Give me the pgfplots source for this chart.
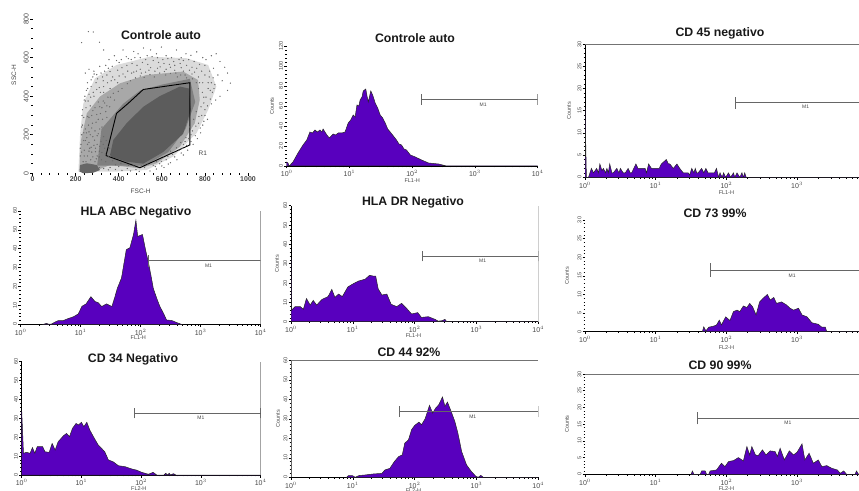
\documentclass[border=0pt]{standalone}
\usepackage{fontspec}
\setmainfont{Liberation Sans}
\usepackage{pgfplots}
\pgfplotsset{compat=1.18}
\definecolor{hist}{RGB}{88,0,190}
\definecolor{tl}{RGB}{70,70,70}
\newcommand{\fs}[1]{\fontsize{#1}{#1}\selectfont}
\pgfplotsset{
 base/.style={scale only axis, axis x line=bottom, axis y line=left, axis line style={-},
   tick align=outside, major tick length=2.5pt, minor tick length=1.3pt,
   tick style={black,line width=.5pt}, minor tick style={black,line width=.5pt},
   /pgf/number format/assume math mode=true, /pgf/number format/1000 sep={},
   clip=true},
 hst/.style={base, anchor=south west, xmin=0, ymin=0,
   xtick={0,1,2,3,4}, xticklabels={10$^{0}$,10$^{1}$,10$^{2}$,10$^{3}$,10$^{4}$},
   minor xtick={.301,.477,.602,.699,.778,.845,.903,.954,1.301,1.477,1.602,1.699,1.778,1.845,1.903,1.954,2.301,2.477,2.602,2.699,2.778,2.845,2.903,2.954,3.301,3.477,3.602,3.699,3.778,3.845,3.903,3.954},
   xticklabel style={font=\fs{7},text=tl,inner sep=1pt,yshift=-.8pt},
   yticklabel style={font=\fs{5.5},text=tl,rotate=90,anchor=south,inner sep=1pt},
   ylabel style={font=\fs{5.5},text=tl},
   xlabel style={font=\fs{5.5},text=tl},
   minor y tick num=4},
 lab/.style n args={3}{x label style={at={(axis description cs:#1,0)},anchor=center,yshift=-#2pt},
   xlabel={#3}},
 laby/.style={y label style={at={(axis description cs:0,.5)},anchor=center,yshift=#1pt},ylabel={Counts}},
 noy/.style={y axis line style={draw=none}},
 thicky/.style={y axis line style={draw=black,line width=1pt}},
 xl/.style={x axis line style={draw=black,line width=.9pt}},
 hfill/.style={fill=hist,draw=black!85,line width=.5pt},
 gatel/.style={draw=black!60,line width=.7pt,forget plot},
 framel/.style={draw=black!55,line width=.8pt,forget plot},
}
\newcommand{\ttl}[3]{\node[font=\bfseries\fs{12.3},text=black!90,inner sep=0pt] at (#1pt,490pt-#2pt) {#3};}
\begin{document}
\begin{tikzpicture}
\useasboundingbox (0pt,0pt) rectangle (859pt,490pt);

% ---------- scatter FSC/SSC
\begin{axis}[base, noy, x axis line style={draw=none}, anchor=south west, at={(32.5pt,316.7pt)},
  width=220.7pt, height=161.9pt, xmin=0, xmax=1024, ymin=0, ymax=840,
  xtick={0,200,400,600,800,1000}, ytick={0,200,400,600,800}, minor x tick num=4, minor y tick num=3,
  tick style={black,line width=.8pt}, minor tick style={black,line width=.8pt},
  xticklabel style={font=\bfseries\fs{7},text=tl,inner sep=1pt},
  yticklabel style={font=\fs{7},text=tl,rotate=90,anchor=south,inner sep=1pt},
  xlabel={FSC-H}, ylabel={SSC-H},
  x label style={font=\fs{6.5},text=tl,at={(axis description cs:.49,0)},anchor=center,yshift=-18.4pt},
  y label style={font=\fs{6.5},text=tl,at={(axis description cs:0,.607)},anchor=center,yshift=18.5pt}]
\addplot[fill=black!14,draw=none] coordinates {(213,9)(221,208)(236,363)(290,493)(390,562)(545,605)(714,597)(815,562)(853,450)(815,329)(761,208)(653,87)(529,17)(390,9)} --cycle;
\addplot[fill=black!34,draw=none] coordinates {(218,17)(225,173)(252,311)(313,398)(406,467)(529,510)(699,528)(768,484)(776,381)(753,260)(684,138)(576,52)(498,26)(360,43)(282,9)} --cycle;
\addplot[fill=black!50,draw=none] coordinates {(300,40)(320,230)(420,360)(500,430)(600,460)(730,490)(755,370)(710,230)(630,110)(520,40)(420,40)} --cycle;
\addplot[fill=black!64,draw=none] coordinates {(360,95)(375,173)(437,260)(514,345)(590,400)(684,450)(725,440)(735,329)(699,205)(606,110)(514,50)(437,60)(367,85)} --cycle;
\addplot[fill=black!60,draw=none] coordinates {(218,9)(221,43)(252,52)(298,43)(313,17)(282,3)(236,0)} --cycle;
\addplot[only marks, mark=*, mark size=.4pt, black!58, mark options={draw=none}] coordinates {
(228,678)(259,735)(282,733)(311,680)(330,640)(245,520)(262,540)(285,530)(298,512)(312,555)(325,500)(340,560)(360,528)(355,590)(380,610)(402,575)(420,640)(445,595)(470,632)(490,620)(515,650)(532,610)(548,640)(575,620)(598,655)(620,610)(645,600)(668,640)(690,600)(712,620)(735,612)(762,630)(790,600)(805,590)(830,610)(852,620)(870,580)(892,550)(905,520)(918,468)(905,430)(880,480)(860,510)(840,545)(820,500)(870,400)(850,380)(835,420)(815,440)(830,360)(800,330)(812,280)(790,250)(780,210)(765,180)(745,150)(720,120)(700,95)(670,70)(640,55)(610,30)(575,22)(545,12)(250,430)(240,380)(230,300)(232,250)(228,200)(248,340)(262,410)(272,450)(295,470)(310,445)(328,480)(345,510)(372,500)(395,535)(415,548)(438,560)(462,570)(485,560)(510,575)(535,565)(560,585)(585,575)(610,570)(635,565)(660,560)(685,570)(715,560)(740,550)(762,545)(785,530)(800,510)(790,470)(815,470)(825,430)(805,395)(795,365)(785,300)(770,260)(742,220)(725,180)(700,150)(680,120)(650,98)(620,70)(590,50)(260,250)(275,300)(290,340)(305,370)(290,220)(305,280)(322,340)(262,160)(280,190)(300,150)(322,240)(330,190)(345,290)(350,140)(240,120)(255,90)(275,110)(300,90)(320,70)(340,60)(360,30)(400,35)(440,25)(480,20)(520,30)(250,210)(268,350)(285,400)(330,420)(360,440)(395,470)(430,500)(470,525)(500,540)(540,535)(580,545)(620,540)(660,535)(700,530)(740,515)(770,500)(255,470)(280,500)(238,290)(225,150)(222,90)(235,60)(270,70)(290,60)(310,115)(335,130)(228,240)(246,170)(265,130)(285,145)(305,205)(318,165)(295,265)(275,235)(256,295)(315,310)(335,365)(350,395)(375,415)
(243,400)(258,375)(270,395)(282,420)(298,435)(315,420)(330,450)(348,470)(365,480)(382,485)(402,505)(420,515)(442,530)(460,520)(482,530)(505,520)(525,525)(548,548)(568,530)(592,552)(612,528)(640,550)(665,520)(690,548)(708,510)(728,535)(752,525)(775,470)(770,440)(788,420)(795,395)(782,345)(760,320)(772,295)(748,280)(758,245)(730,240)(735,200)(712,185)(708,165)(688,160)(695,130)(668,132)(660,110)(640,115)(628,88)(606,85)(598,62)(575,60)(560,42)(535,48)(505,38)(470,38)(445,42)(410,52)(385,45)(372,65)(352,85)(338,100)(322,108)(310,85)(292,112)(272,135)(255,150)(238,170)(245,230)(262,215)(278,260)(262,290)(280,325)(298,305)(312,345)(328,375)(345,350)(362,395)(380,380)(398,425)(415,440)(440,465)(455,480)(478,495)(500,505)(518,498)(545,512)(565,500)(590,520)(618,510)(640,518)(672,500)(688,510)(715,495)(742,490)(760,470)(238,210)(252,185)(268,200)(288,172)(300,195)(312,230)(325,280)(340,320)(358,345)(292,130)(312,140)(328,150)(342,170)(358,130)(340,100)(270,45)(310,30)(330,25)(352,18)(385,20)(415,15)(455,12)(495,10)(222,130)(228,110)(240,90)(248,60)(262,115)(280,85)(296,75)(232,330)(246,375)(256,440)(272,485)(286,515)(302,490)(318,520)(335,530)(352,545)(370,555)(390,585)(412,590)(435,605)(458,590)(475,600)(500,600)(525,590)(555,605)(580,600)(605,590)(628,595)(655,580)(680,590)(700,585)(725,590)(750,580)(775,565)(800,560)(822,530)(838,495)(846,460)(830,470)(842,440)(825,385)(812,350)(800,300)(795,270)(778,235)(755,195)(735,165)(715,145)(690,105)(660,85)(630,48)(600,38)(570,35)
};
\addplot[black,line width=.9pt,forget plot] coordinates {(341,92)(390,311)(444,363)(514,435)(730,470)(730,147)(498,29)(341,92)};
\node[font=\fs{6.5},text=tl] at (axis cs:790,105) {R1};
\end{axis}

% ---------- Controle auto FL1
\begin{axis}[hst, noy, xl, at={(286.7pt,324pt)}, width=251pt, height=120pt, xmax=4, ymax=120,
  ytick={0,20,40,60,80,100,120}, lab={.5}{15}{FL1-H}, laby=14.7]
\addplot[hfill] coordinates {(0,4)(.02,3)(.04,0)(.1,4)(.18,13)(.26,21)(.32,26)(.37,34)(.41,33)(.45,36)(.49,34)(.53,36)(.56,34)(.58,37)(.64,31)(.68,28)(.74,32)(.78,31)(.82,33)(.88,33)(.93,34)(.98,43)(1.02,46)(1.06,51)(1.09,49)(1.12,61)(1.15,60)(1.17,66)(1.2,69)(1.22,75)(1.26,77)(1.28,70)(1.30,64)(1.34,75)(1.37,71)(1.41,63)(1.45,58)(1.49,51)(1.53,48)(1.57,43)(1.61,37)(1.65,34)(1.7,30)(1.75,26)(1.79,22)(1.83,21)(1.87,17)(1.91,16)(1.97,11)(2.05,9)(2.15,6)(2.26,3)(2.42,2)(2.55,0)(4,0)} \closedcycle;
\addplot[gatel] coordinates {(2.14,61)(2.14,72)};
\addplot[gatel] coordinates {(2.14,66.7)(4,66.7)};
\addplot[gatel] coordinates {(4,61)(4,72)};
\node[font=\fs{5},text=tl] at (axis cs:3.13,61.5) {M1};
\end{axis}

% ---------- CD 45
\begin{axis}[hst, thicky, xl, at={(585pt,312.7pt)}, width=274pt, height=133.3pt, xmax=3.876, ymax=30,
  ytick={0,5,10,15,20,25,30}, lab={.516}{15.7}{FL1-H}, laby=16]
\addplot[hfill] coordinates {(0,15.5)(.02,0)(.05,0)(.09,2)(.12,1)(.165,2)(.19,1)(.21,3)(.24,1.5)(.26,2)(.29,1)(.31,2)(.33,1)(.35,3)(.38,1)(.40,1)(.45,2)(.48,1)(.50,2)(.54,1)(.57,1)(.61,2)(.64,1)(.66,1)(.72,3)(.75,2)(.78,2)(.82,2)(.85,2)(.87,1)(.90,3)(.94,2)(.98,2)(1.01,2)(1.05,2)(1.08,3)(1.15,4)(1.18,3)(1.20,3)(1.25,2)(1.30,3)(1.34,2)(1.39,1)(1.46,1)(1.48,0.5)(1.51,2)(1.54,1)(1.56,2)(1.58,1)(1.6,1)(1.65,2)(1.68,1)(1.71,2)(1.74,1)(1.77,1)(1.83,1)(1.86,2)(1.89,0)(1.91,1)(1.94,0)(1.96,1)(1.99,0)(2.03,1)(2.06,0)(2.10,1)(2.12,0)(2.15,1)(2.19,0)(2.22,1)(2.24,0)(2.26,1)(2.28,0)(3.876,0)} \closedcycle;
\addplot[gatel] coordinates {(2.127,15.45)(2.127,18.15)};
\addplot[gatel] coordinates {(2.127,16.8)(3.876,16.8)};
\addplot[framel] coordinates {(0,30)(3.876,30)};
\node[font=\fs{5},text=tl] at (axis cs:3.12,15.8) {M1};
\end{axis}

% ---------- HLA ABC
\begin{axis}[hst, noy, xl, at={(20.7pt,165.7pt)}, width=240pt, height=113.4pt, xmax=4, ymax=60,
  ytick={0,10,20,30,40,50,60}, lab={.49}{13.4}{FL1-H}]
\addplot[hfill] coordinates {(.38,0)(.43,.5)(.47,0)(.52,.2)(.56,1)(.63,2)(.71,2)(.79,3)(.88,4)(.96,5.5)(1.02,9.5)(1.09,10.8)(1.17,14.6)(1.24,12)(1.29,11.5)(1.35,9.4)(1.43,10.8)(1.52,9.4)(1.57,14.5)(1.61,19)(1.68,24.5)(1.76,39.5)(1.82,40.5)(1.88,47.5)(1.92,55)(1.95,46.5)(1.99,47)(2.03,47.5)(2.08,39.5)(2.13,32.5)(2.17,26)(2.21,19)(2.27,13.5)(2.32,9.4)(2.38,5.8)(2.43,2.3)(2.52,2)(2.6,.9)(2.68,0)} \closedcycle;
\addplot[gatel] coordinates {(2.13,30.5)(2.13,36.9)};
\addplot[gatel] coordinates {(2.13,33.7)(4,33.7)};
\addplot[framel] coordinates {(4,0)(4,60)};
\node[font=\fs{5},text=tl] at (axis cs:3.13,31) {M1};
\end{axis}

% ---------- HLA DR
\begin{axis}[hst, thicky, xl, at={(291pt,168.3pt)}, width=247.3pt, height=116pt, xmax=4, ymax=60,
  ytick={0,10,20,30,40,50,60}, lab={.495}{14.3}{FL1-H}, laby=14]
\addplot[hfill] coordinates {(0,32.7)(.01,6)(.065,7.8)(.15,7.8)(.2,6.4)(.25,12)(.31,8.6)(.36,11)(.415,8.6)(.5,11.5)(.6,13)(.66,16.7)(.71,12.6)(.77,14.3)(.83,13)(.92,18)(1,19.5)(1.09,21)(1.2,22)(1.27,24)(1.33,23.6)(1.37,23.6)(1.41,17)(1.47,13.8)(1.55,14.3)(1.62,9)(1.71,7.8)(1.79,9.5)(1.87,6.9)(1.95,4)(2.05,4.7)(2.11,2.2)(2.22,2.6)(2.33,1.2)(2.38,.3)(2.44,.5)(2.49,1.2)(2.52,0)(4,0)} \closedcycle;
\addplot[gatel] coordinates {(2.13,31.2)(2.13,36.8)};
\addplot[gatel] coordinates {(2.13,34)(4,34)};
\addplot[gatel] coordinates {(4,31.2)(4,36.8)};
\addplot[framel] coordinates {(4,0)(4,60)};
\node[font=\fs{5},text=tl] at (axis cs:3.1,31.4) {M1};
\end{axis}

% ---------- CD 73
\begin{axis}[hst, noy, xl, at={(585pt,158.3pt)}, width=274pt, height=111.7pt, xmax=3.876, ymax=30,
  ytick={0,5,10,15,20,25,30}, lab={.516}{16.3}{FL2-H}, laby=18]
\addplot[hfill] coordinates {(1.66,0)(1.68,1.3)(1.71,.2)(1.75,1.2)(1.82,1.5)(1.86,1.8)(1.9,3.1)(1.93,1.8)(1.99,4)(2.05,3)(2.1,5.4)(2.15,5.8)(2.19,5.4)(2.24,6.9)(2.29,6.5)(2.33,7.6)(2.37,6.7)(2.42,4.5)(2.47,8)(2.52,9)(2.58,10)(2.62,8.5)(2.67,9.2)(2.71,7.6)(2.78,8)(2.85,7.2)(2.9,6.3)(2.95,5.8)(3.02,6.3)(3.07,4.5)(3.14,4)(3.21,2.4)(3.3,2)(3.35,1.2)(3.4,1.2)(3.42,0)(3.876,0)} \closedcycle;
\addplot[gatel] coordinates {(1.77,14.8)(1.77,18.4)};
\addplot[gatel] coordinates {(1.77,16.6)(3.876,16.6)};
\node[font=\fs{5},text=tl] at (axis cs:2.93,15.1) {M1};
\end{axis}

% ---------- CD 34
\begin{axis}[hst, thicky, xl, at={(21.7pt,15pt)}, width=239pt, height=113.3pt, xmax=4, ymax=60,
  ytick={0,10,20,30,40,50,60}, lab={.49}{14}{FL2-H}]
\addplot[hfill] coordinates {(0,34)(.03,11.5)(.08,12)(.14,11.5)(.18,14.5)(.22,11.5)(.26,15)(.35,15)(.39,12.3)(.46,12)(.51,16.7)(.56,13.2)(.61,17.6)(.7,20.8)(.75,22)(.8,20.3)(.85,24.7)(.91,27.3)(.95,26.5)(1,27.9)(1.04,25.6)(1.09,27.9)(1.14,23.8)(1.2,20.3)(1.28,15.9)(1.34,14)(1.39,12.3)(1.45,8)(1.53,7)(1.62,4.9)(1.73,4.4)(1.84,3.2)(1.92,2.6)(2.01,1.4)(2.12,.4)(2.2,1.4)(2.26,0)(2.38,0)(2.41,.9)(2.44,0)(2.47,.9)(2.49,0)(2.54,.7)(2.58,0)(4,0)} \closedcycle;
\addplot[gatel] coordinates {(1.88,30)(1.88,35.6)};
\addplot[gatel] coordinates {(1.88,32.8)(4,32.8)};
\addplot[black,line width=.8pt,forget plot] coordinates {(4,30)(4,35.6)};
\addplot[framel] coordinates {(4,0)(4,60)};
\node[font=\fs{5},text=tl] at (axis cs:3,30.3) {M1};
\end{axis}

% ---------- CD 44
\begin{axis}[hst, xl, y axis line style={draw=black!60,line width=.6pt}, at={(291pt,12.7pt)}, width=247.3pt, height=117pt, xmax=4, ymax=60,
  ytick={0,10,20,30,40,50,60}, lab={.495}{13}{FL2-H}, laby=13]
\addplot[hfill] coordinates {(.9,0)(.93,.9)(.99,.9)(1.04,0)(1.1,.9)(1.2,1.2)(1.33,1.7)(1.47,2)(1.52,3.8)(1.6,4.6)(1.67,8)(1.74,10.6)(1.8,11.5)(1.84,17.5)(1.9,19.2)(1.95,24.4)(2,26.6)(2.07,28.3)(2.11,26.9)(2.17,30)(2.24,36.9)(2.29,32.9)(2.34,35.5)(2.39,37.2)(2.45,41.2)(2.49,36.4)(2.53,38.6)(2.59,33.8)(2.65,28.6)(2.7,22.6)(2.76,13.2)(2.84,6.3)(2.92,2.9)(2.99,.5)(3.03,0)(3.07,1)(3.11,0)(4,0)} \closedcycle;
\addplot[gatel] coordinates {(1.76,30.9)(1.76,36.7)};
\addplot[gatel] coordinates {(1.76,33.8)(4,33.8)};
\addplot[gatel] coordinates {(4,30.9)(4,36.7)};
\addplot[framel] coordinates {(0,60)(4,60)};
\node[font=\fs{5},text=tl] at (axis cs:2.94,31.2) {M1};
\end{axis}

% ---------- CD 90
\begin{axis}[hst, noy, xl, at={(585pt,15.7pt)}, width=274pt, height=100.3pt, xmax=3.876, ymax=30,
  ytick={0,5,10,15,20,25,30}, lab={.516}{14.7}{FL2-H}, laby=18]
\addplot[hfill] coordinates {(1.5,0)(1.52,1)(1.54,0)(1.63,0)(1.65,1)(1.7,1)(1.72,0)(1.75,0)(1.77,1)(1.86,1.3)(1.93,3.3)(1.98,2.3)(2.03,3.8)(2.1,4.1)(2.17,5)(2.24,4)(2.29,8.3)(2.33,5.8)(2.36,8.3)(2.41,5.8)(2.45,5.6)(2.51,7.3)(2.56,5.8)(2.62,7)(2.69,6.8)(2.72,5.3)(2.76,7.8)(2.82,4.3)(2.89,7)(2.95,5.8)(3,6.6)(3.07,9.1)(3.11,4.3)(3.17,6.3)(3.23,3.3)(3.3,4.3)(3.35,2.3)(3.42,2.6)(3.49,1.8)(3.57,1.3)(3.61,.3)(3.66,1)(3.7,0)(3.82,0)(3.84,1)(3.87,0)(3.876,0)} \closedcycle;
\addplot[gatel] coordinates {(1.59,14.9)(1.59,18.5)};
\addplot[gatel] coordinates {(1.59,16.7)(3.876,16.7)};
\addplot[framel] coordinates {(0,30)(3.876,30)};
\node[font=\fs{5},text=tl] at (axis cs:2.87,15.3) {M1};
\end{axis}

\ttl{161}{35}{Controle auto}
\ttl{415}{38}{Controle auto}
\ttl{720}{33}{CD 45 negativo}
\ttl{136}{212}{HLA ABC Negativo}
\ttl{413}{202}{HLA DR Negativo}
\ttl{715}{213}{CD 73 99\%}
\ttl{133}{359}{CD 34 Negativo}
\ttl{409}{352}{CD 44 92\%}
\ttl{720}{365}{CD 90 99\%}
\end{tikzpicture}
\end{document}
